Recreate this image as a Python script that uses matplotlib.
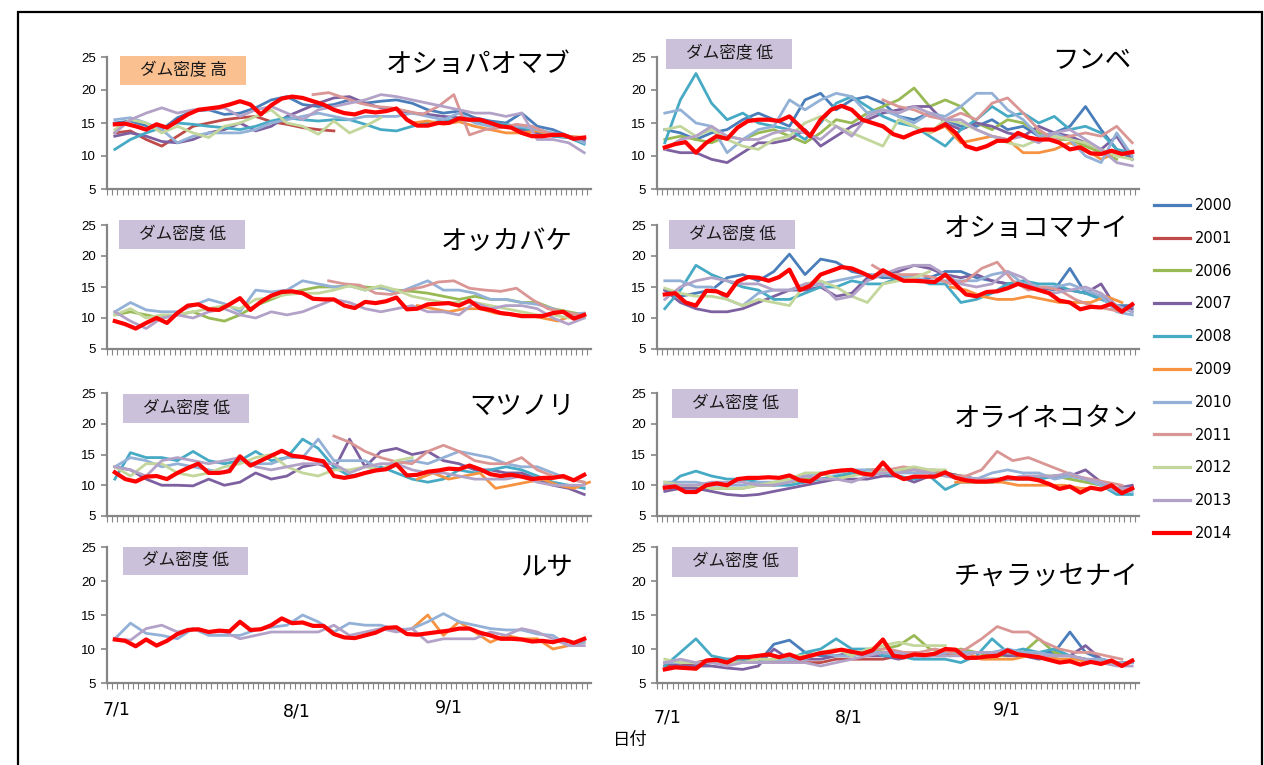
import numpy as np
import matplotlib.pyplot as plt
from matplotlib.patches import Rectangle
from matplotlib.lines import Line2D

plt.rcParams['font.family'] = ['Noto Sans CJK JP', 'DejaVu Sans']

W, H = 1264, 765

years = ['2000', '2001', '2006', '2007', '2008', '2009', '2010', '2011', '2012', '2013', '2014']
year_colors = ['#4A7EBB', '#BE4B48', '#98B954', '#7D60A0', '#46AAC5', '#F69240',
               '#93B1D6', '#D99694', '#C3D69B', '#B3A2C7', '#FF0000']
date_labels = ['7/1', '8/1', '9/1']

# water temperature, 7/1 = day 0. past years: (first day, values every 3 days)
# 2014: values every 2 days from 7/1
oshopaomabu = {
    '2000': (0, [15.0, 15.3, 14.6, 14.0, 15.8, 16.8, 17.0, 16.3, 16.5, 17.3, 18.5, 19.0, 17.8, 17.5, 17.8, 18.5,
                 18.0, 18.3, 18.5, 18.0, 17.0, 16.5, 16.8, 15.8, 15.3, 15.0, 16.5, 14.5, 14.0, 13.0, 12.5]),
    '2001': (0, [13.5, 13.8, 12.5, 11.5, 13.0, 14.5, 15.0, 15.5, 15.8, 16.0, 15.2, 14.8, 14.3, 14.0, 13.8]),
    '2007': (0, [13.0, 13.5, 13.0, 12.2, 12.0, 12.5, 13.5, 14.0, 15.0, 13.8, 14.5, 16.0, 17.0, 18.0, 18.8, 19.0,
                 18.0, 17.3, 17.0, 16.5, 16.3, 16.0, 15.8, 15.5, 15.0, 14.8, 14.0, 13.5, 13.0, 12.8, 12.3]),
    '2008': (0, [11.0, 12.5, 13.5, 14.3, 15.0, 14.8, 14.5, 14.3, 14.0, 14.5, 15.3, 15.8, 15.5, 15.3, 15.5, 15.5,
                 14.8, 14.0, 13.8, 14.5, 15.0, 15.3, 15.5, 15.3, 15.0, 14.8, 14.3, 13.8, 13.0, 12.8, 11.8]),
    '2009': (57, [15.0, 15.3, 14.8, 15.2, 14.5, 14.0, 13.5, 13.5, 13.8, 13.2, 13.0, 12.8]),
    '2010': (0, [15.5, 15.8, 15.0, 14.0, 12.0, 13.0, 13.5, 13.5, 13.5, 14.0, 15.0, 15.5, 16.0, 16.5, 16.0, 15.5,
                 16.0, 16.0, 16.0, 16.5, 16.0, 15.5, 16.5, 15.0, 14.5, 14.5, 14.5, 14.0, 13.5, 13.0, 12.0]),
    '2011': (38, [19.3, 19.6, 18.8, 18.0, 17.5, 17.3, 16.8, 16.3, 17.5, 19.3, 13.2, 14.0, 14.3, 14.8, 14.5, 13.5,
                  13.0, 12.8]),
    '2012': (0, [14.0, 15.5, 15.0, 13.5, 14.5, 13.5, 12.8, 14.5, 15.0, 16.0, 17.0, 15.0, 14.5, 13.3, 15.3, 13.5,
                 14.5, 15.8]),
    '2013': (0, [13.5, 15.5, 16.5, 17.3, 16.5, 17.0, 17.0, 17.3, 16.0, 17.0, 17.5, 16.5, 15.5, 17.0, 17.5, 18.0,
                 18.5, 19.3, 19.0, 18.5, 18.0, 17.5, 17.0, 16.5, 16.5, 16.0, 16.5, 12.5, 12.5, 12.0, 10.5]),
}
oshopaomabu_2014 = [14.8, 14.9, 14.5, 14.0, 14.8, 14.3, 15.3, 16.3, 17.0, 17.2, 17.4, 17.8, 18.3, 17.8, 16.3, 17.7,
                    18.7, 19.0, 18.8, 18.3, 17.8, 17.0, 16.5, 16.3, 16.8, 16.6, 16.8, 17.2, 15.5, 14.6, 14.6, 15.0,
                    15.0, 15.7, 15.5, 15.5, 15.0, 14.5, 14.3, 13.5, 13.0, 13.0, 13.2, 13.2, 12.6, 12.8]

funbe = {
    '2000': (0, [14.0, 13.5, 12.5, 13.5, 14.0, 15.5, 16.5, 15.5, 14.5, 18.5, 19.5, 17.0, 18.5, 19.0, 18.0, 16.0,
                 15.5, 16.5, 15.5, 14.5, 14.5, 15.5, 14.0, 14.5, 13.0, 13.5, 14.5, 17.5, 14.0, 11.0, 9.5]),
    '2006': (0, [12.5, 13.0, 12.5, 12.0, 13.0, 12.5, 13.5, 14.0, 13.0, 12.0, 13.5, 15.5, 15.0, 16.5, 17.5, 18.5,
                 20.3, 17.5, 18.5, 17.5, 15.0, 14.0, 15.5, 15.0, 13.5, 12.5, 12.5, 11.5, 10.5, 9.5]),
    '2007': (0, [11.0, 10.5, 10.5, 9.5, 9.0, 10.5, 12.0, 12.0, 12.5, 14.0, 11.5, 13.0, 14.5, 15.5, 16.5, 17.0,
                 17.5, 17.5, 15.0, 14.0, 15.0, 14.5, 13.5, 13.0, 14.5, 13.5, 13.0, 12.0, 11.0, 13.0, 9.5]),
    '2008': (0, [12.0, 18.5, 22.5, 18.0, 15.5, 16.5, 15.0, 14.5, 14.0, 12.5, 15.0, 18.0, 19.0, 17.5, 16.0, 15.0,
                 14.5, 13.0, 11.5, 14.0, 15.5, 17.5, 16.0, 16.5, 15.0, 16.0, 14.0, 14.5, 13.5, 11.0, 10.5]),
    '2009': (51, [13.5, 14.5, 12.0, 12.5, 13.0, 12.5, 10.5, 10.5, 11.0, 12.0, 11.0, 9.5, 10.5]),
    '2010': (0, [16.5, 17.0, 15.0, 14.5, 10.5, 12.5, 14.0, 14.5, 18.5, 17.0, 18.5, 19.5, 19.0, 16.5, 17.0, 16.0,
                 15.0, 16.5, 16.0, 17.5, 19.5, 19.5, 17.0, 15.5, 13.0, 13.5, 12.5, 10.0, 9.0, 13.5, 10.0]),
    '2011': (42, [18.5, 17.5, 17.0, 16.0, 15.5, 16.5, 15.5, 18.0, 18.8, 16.5, 14.0, 12.5, 13.0, 13.5, 13.0, 14.5,
                  12.0]),
    '2012': (0, [14.0, 14.5, 13.0, 14.0, 12.5, 11.5, 11.0, 12.5, 13.0, 15.0, 16.0, 14.5, 13.5, 12.5, 11.5, 15.5,
                 14.5, 13.5, 15.5, 15.0, 14.0, 13.0, 12.0, 11.5, 12.5, 13.0, 12.5, 12.0, 11.0, 10.0, 9.5]),
    '2013': (0, [11.0, 12.5, 13.0, 14.5, 13.0, 12.5, 12.5, 13.5, 14.0, 13.5, 12.5, 14.5, 13.0, 16.0, 17.0, 16.5,
                 17.5, 16.5, 15.5, 15.5, 14.0, 13.0, 12.5, 13.0, 12.0, 13.5, 14.0, 12.5, 11.0, 9.0, 8.5]),
}
funbe_2014 = [11.3, 11.8, 12.1, 10.5, 12.0, 13.0, 12.6, 14.3, 15.3, 15.5, 15.5, 15.3, 16.0, 14.5, 13.0, 15.5,
              17.0, 17.6, 17.0, 15.5, 15.0, 14.5, 13.3, 12.8, 13.5, 14.0, 14.0, 14.8, 13.5, 11.5, 11.0, 11.5,
              12.3, 12.3, 13.5, 12.8, 12.5, 12.5, 12.0, 11.0, 11.3, 10.4, 10.3, 10.8, 10.3, 10.6]

okkabake = {
    '2006': (0, [10.5, 11.0, 10.5, 10.0, 10.5, 11.0, 10.0, 9.5, 10.5, 12.0, 13.0, 14.0, 14.5, 15.0, 15.0, 15.2,
                 15.0, 14.8, 14.5, 14.3, 14.0, 13.5, 13.0, 13.5, 13.0, 13.0, 12.5, 12.5, 11.5, 11.0, 10.5]),
    '2009': (58, [12.0, 11.5, 11.0, 11.5, 11.5, 10.8, 10.5, 10.5, 10.0, 9.5, 10.5]),
    '2010': (0, [11.0, 12.5, 11.3, 11.0, 11.0, 12.0, 13.0, 12.3, 11.0, 14.5, 14.2, 14.5, 16.0, 15.5, 15.0, 15.2,
                 14.5, 15.0, 14.0, 15.0, 16.0, 14.5, 14.5, 14.0, 13.0, 13.0, 12.5, 12.2, 11.5, 10.5, 10.8]),
    '2011': (41, [16.0, 15.5, 15.3, 14.0, 13.8, 14.5, 15.0, 15.8, 16.0, 14.8, 14.5, 14.3, 14.8, 13.0, 11.5, 11.0,
                  10.5]),
    '2012': (0, [10.5, 11.5, 10.0, 10.5, 10.5, 11.0, 11.5, 12.0, 11.5, 13.0, 13.3, 13.8, 14.0, 14.0, 14.5, 15.2,
                 14.5, 15.2, 14.5, 13.5, 13.0, 12.5, 12.5, 12.5, 12.0, 11.5, 11.0, 10.5, 10.5, 10.0, 10.0]),
    '2013': (0, [11.0, 9.5, 8.3, 10.0, 10.5, 10.0, 11.0, 11.5, 10.5, 10.0, 11.0, 10.5, 11.0, 12.0, 13.0, 12.5,
                 11.5, 11.0, 11.5, 12.0, 11.0, 11.0, 10.5, 12.5, 11.5, 12.0, 12.0, 11.5, 10.0, 9.0, 10.0]),
}
okkabake_2014 = [9.5, 9.0, 8.3, 9.2, 10.0, 9.2, 10.8, 12.0, 12.2, 11.4, 11.3, 12.2, 13.2, 11.3, 12.6, 13.6,
                 14.2, 14.3, 14.0, 13.1, 13.0, 13.0, 12.0, 11.6, 12.6, 12.4, 12.7, 13.3, 11.4, 11.5, 12.2, 12.3,
                 12.4, 12.0, 12.8, 11.6, 11.3, 10.8, 10.6, 10.3, 10.3, 10.3, 10.8, 11.0, 9.9, 10.5]

oshokomanai = {
    '2000': (0, [14.5, 13.5, 14.0, 14.5, 16.5, 17.0, 16.0, 17.5, 20.3, 17.0, 19.5, 19.0, 17.5, 17.0, 16.5, 16.5,
                 16.0, 16.5, 17.5, 17.5, 16.5, 16.0, 15.5, 15.5, 15.0, 14.5, 18.0, 14.0, 13.5, 12.0, 12.0]),
    '2007': (0, [14.5, 12.5, 11.5, 11.0, 11.0, 11.5, 12.5, 13.5, 14.5, 14.5, 15.0, 13.5, 14.0, 16.5, 17.0, 17.5,
                 18.5, 18.0, 17.0, 16.5, 17.0, 16.0, 15.5, 15.5, 14.5, 15.0, 14.5, 14.0, 15.5, 11.5, 11.5]),
    '2008': (0, [11.5, 14.5, 18.5, 17.0, 16.0, 15.0, 14.5, 13.0, 13.0, 14.0, 15.0, 15.0, 16.0, 15.5, 15.5, 16.5,
                 16.5, 15.5, 15.5, 12.5, 13.0, 14.0, 15.5, 16.0, 15.5, 15.5, 14.5, 14.0, 13.0, 12.0, 11.0]),
    '2009': (55, [15.0, 14.5, 13.5, 13.0, 13.0, 13.5, 13.0, 12.5, 12.5, 12.5, 13.5, 12.5]),
    '2010': (0, [16.0, 16.0, 15.0, 15.0, 13.0, 12.0, 14.0, 14.5, 14.5, 15.0, 15.5, 16.0, 16.5, 17.0, 17.0, 16.5,
                 16.5, 16.0, 16.0, 16.0, 16.0, 17.0, 17.5, 15.5, 15.0, 15.0, 15.5, 14.5, 13.5, 11.0, 10.5]),
    '2011': (40, [18.5, 17.0, 17.0, 17.0, 16.5, 15.5, 16.0, 18.0, 19.0, 16.0, 14.5, 15.0, 14.5, 13.0, 12.0, 11.5,
                  11.0]),
    '2012': (0, [14.8, 14.0, 13.5, 13.5, 13.0, 12.0, 13.0, 12.5, 12.0, 15.5, 16.0, 15.0, 13.5, 12.5, 15.5, 16.0,
                 16.5, 17.5]),
    '2013': (0, [13.0, 15.0, 16.0, 16.5, 16.0, 15.5, 15.5, 14.5, 14.5, 15.5, 15.5, 13.0, 13.5, 16.0, 17.0, 18.0,
                 18.5, 18.5, 17.0, 15.5, 15.0, 15.5, 17.5, 16.5, 14.5, 14.0, 14.5, 15.0, 14.0, 12.0, 11.0]),
}
oshokomanai_2014 = [13.8, 14.0, 12.5, 12.0, 14.4, 14.3, 13.6, 15.9, 16.6, 16.5, 16.0, 16.6, 17.8, 14.5, 15.2, 17.0,
                    17.6, 18.2, 18.0, 17.3, 16.5, 17.7, 16.8, 16.0, 16.0, 15.9, 15.8, 17.0, 15.4, 13.8, 13.5, 14.2,
                    14.3, 14.8, 15.5, 15.0, 14.5, 14.0, 12.8, 12.5, 11.4, 11.8, 11.7, 12.3, 11.0, 12.2]

matsunori = {
    '2007': (0, [13.0, 12.5, 11.0, 10.0, 10.0, 9.9, 11.0, 10.0, 10.5, 12.0, 11.0, 11.5, 13.0, 13.5, 12.5, 17.5,
                 13.0, 15.5, 16.0, 15.0, 15.5, 14.0, 13.5, 12.5, 12.5, 12.0, 12.0, 11.0, 10.0, 9.5, 8.5]),
    '2008': (0, [11.0, 15.3, 14.5, 14.5, 14.0, 15.5, 14.0, 13.5, 14.0, 15.5, 14.0, 14.5, 17.5, 16.0, 13.0, 11.5,
                 12.0, 13.0, 12.0, 11.0, 10.5, 11.0, 12.5, 12.0, 12.5, 13.0, 12.5, 11.5, 10.5, 10.0, 9.5]),
    '2009': (58, [11.0, 12.0, 11.0, 11.5, 12.0, 9.5, 10.0, 10.5, 11.0, 10.0, 9.5, 10.5]),
    '2010': (0, [13.0, 14.5, 14.0, 13.0, 13.5, 13.0, 12.5, 12.0, 14.0, 13.5, 13.5, 14.5, 14.5, 17.5, 14.0, 14.0,
                 14.0, 12.5, 13.5, 14.0, 13.5, 14.5, 15.5, 15.0, 14.5, 13.5, 13.0, 13.0, 12.0, 11.0, 10.5]),
    '2011': (42, [18.0, 17.0, 15.5, 14.5, 13.8, 13.5, 15.5, 16.5, 15.5, 14.0, 13.5, 13.5, 14.5, 12.5, 11.5, 11.0,
                  10.5]),
    '2012': (0, [13.0, 11.5, 13.5, 13.5, 12.0, 11.5, 12.0, 13.0, 13.5, 14.5, 15.0, 13.0, 12.0, 11.5, 12.5, 12.5,
                 13.0, 12.5, 14.0, 14.5]),
    '2013': (0, [13.0, 12.5, 11.5, 14.0, 14.5, 14.0, 13.5, 14.0, 14.5, 13.0, 12.5, 13.0, 13.5, 13.5, 13.5, 12.0,
                 13.0, 13.5, 13.5, 12.5, 12.0, 12.0, 11.5, 11.0, 11.0, 11.0, 11.5, 10.5, 10.0, 10.0, 10.0]),
}
matsunori_2014 = [12.1, 11.0, 10.6, 11.4, 11.5, 11.0, 12.0, 12.8, 13.5, 12.0, 12.0, 12.3, 14.7, 13.2, 14.0, 14.8,
                  15.6, 14.8, 14.6, 14.2, 13.9, 11.5, 11.2, 11.5, 12.0, 12.4, 12.6, 13.4, 11.6, 11.7, 12.2, 12.4,
                  12.7, 12.6, 13.2, 12.6, 11.8, 11.5, 11.7, 11.4, 11.0, 11.2, 11.2, 11.5, 10.8, 11.7]

orainekotan = {
    '2006': (0, [10.0, 10.0, 9.5, 9.5, 9.5, 9.5, 10.0, 10.0, 10.5, 11.0, 11.0, 11.0, 12.0, 12.5, 12.5, 12.5,
                 12.5, 12.0, 12.0, 11.5, 11.0, 11.0, 11.0, 11.0, 11.5, 11.5, 11.0, 10.5, 10.0, 9.5, 9.5]),
    '2007': (0, [9.0, 9.5, 9.5, 9.0, 8.5, 8.3, 8.5, 9.0, 9.5, 10.0, 10.5, 11.0, 11.0, 11.0, 11.5, 11.5,
                 10.5, 11.5, 12.0, 11.5, 11.0, 10.5, 11.0, 11.0, 11.0, 11.5, 11.5, 12.5, 10.5, 9.5, 10.0]),
    '2008': (0, [9.5, 11.5, 12.3, 11.5, 11.0, 11.0, 10.5, 10.0, 10.0, 10.5, 11.0, 11.5, 12.0, 12.0, 12.0, 11.5,
                 11.0, 11.5, 9.3, 10.5, 10.5, 10.5, 11.0, 11.5, 11.0, 11.5, 11.5, 11.0, 10.0, 8.5, 8.5]),
    '2009': (56, [10.5, 10.5, 10.5, 10.5, 10.0, 10.0, 10.0, 10.0, 9.5, 9.5, 9.5, 9.5]),
    '2010': (0, [10.5, 10.5, 10.5, 10.0, 10.0, 10.0, 10.5, 10.5, 11.0, 11.5, 12.0, 12.0, 12.5, 12.5, 12.5, 12.0,
                 12.0, 12.0, 11.5, 11.5, 11.0, 12.0, 12.5, 12.0, 12.0, 11.0, 11.5, 11.0, 10.0, 9.0, 9.0]),
    '2011': (40, [12.5, 12.5, 13.0, 12.5, 12.5, 11.5, 11.5, 12.5, 15.5, 14.0, 14.5, 13.5, 12.5, 11.5, 11.0, 10.5,
                  10.0]),
    '2012': (0, [10.5, 10.0, 10.0, 9.5, 9.5, 9.5, 10.0, 10.5, 11.0, 12.0, 12.0, 11.0, 11.5, 12.0, 12.0, 12.5,
                 13.0, 12.5, 12.5]),
    '2013': (0, [10.0, 10.0, 10.0, 10.5, 10.5, 10.5, 10.0, 10.0, 10.5, 11.5, 11.0, 11.0, 10.5, 11.5, 12.0, 12.0,
                 12.5, 12.0, 11.5, 11.0, 11.0, 11.0, 11.0, 11.5, 11.5, 11.5, 12.0, 11.0, 10.5, 9.5, 9.5]),
}
orainekotan_2014 = [9.6, 9.8, 8.9, 8.9, 10.0, 10.3, 10.0, 11.0, 11.2, 11.2, 11.3, 11.2, 11.6, 10.8, 10.6, 11.8,
                    12.2, 12.4, 12.5, 11.9, 11.7, 13.7, 11.8, 11.0, 11.4, 11.4, 11.4, 12.1, 11.2, 10.8, 10.6, 10.6,
                    10.8, 11.3, 11.1, 11.1, 10.8, 10.2, 9.4, 9.8, 8.8, 9.6, 9.3, 10.0, 8.7, 9.5]

rusa = {
    '2009': (57, [13.0, 15.0, 12.0, 14.0, 12.5, 11.0, 12.0, 11.5, 11.5, 10.0, 10.5, 11.0]),
    '2010': (0, [11.5, 13.8, 12.3, 12.0, 11.5, 13.0, 12.0, 12.0, 12.0, 12.8, 13.2, 13.5, 15.0, 14.0, 12.5, 13.8,
                 13.5, 13.5, 12.8, 13.0, 14.0, 15.2, 14.0, 13.5, 13.0, 12.8, 12.8, 12.2, 12.0, 10.5, 11.0]),
    '2013': (0, [11.5, 11.3, 13.0, 13.5, 12.5, 13.0, 12.5, 12.5, 11.5, 12.0, 12.5, 12.5, 12.5, 12.5, 13.5, 12.0,
                 12.5, 13.0, 12.5, 13.0, 11.0, 11.5, 11.5, 11.5, 12.5, 12.0, 13.0, 12.5, 11.5, 10.5, 10.5]),
}
rusa_2014 = [11.4, 11.2, 10.4, 11.4, 10.5, 11.2, 12.2, 12.8, 12.9, 12.5, 12.7, 12.6, 14.0, 12.8, 12.9, 13.5,
             14.5, 13.8, 13.9, 13.4, 13.4, 12.2, 11.7, 11.6, 12.0, 12.4, 13.1, 13.2, 12.2, 12.1, 12.3, 12.5,
             12.7, 13.0, 13.0, 12.4, 12.0, 11.5, 11.5, 11.4, 11.1, 11.2, 11.0, 11.4, 10.9, 11.5]

charassenai = {
    '2000': (0, [7.5, 7.5, 7.5, 8.0, 8.0, 8.0, 8.0, 10.7, 11.3, 9.5, 9.0, 9.0, 9.0, 9.5, 9.5, 9.0,
                 9.0, 9.0, 9.5, 9.5, 9.5, 9.5, 9.5, 9.5, 9.5, 9.5, 12.5, 9.5, 8.5, 8.0, 8.0]),
    '2001': (0, [7.5, 7.5, 8.0, 8.5, 8.5, 8.5, 8.0, 8.0, 8.0, 8.0, 8.0, 8.5, 8.5, 8.5, 8.5, 9.0,
                 9.0, 9.0, 9.0, 9.5]),
    '2006': (39, [9.5, 10.0, 10.5, 12.0, 10.0, 9.5, 10.0, 9.5, 9.0, 9.0, 9.5, 11.5, 9.5, 9.0, 8.5, 8.0, 8.0]),
    '2007': (0, [8.0, 7.5, 7.5, 7.5, 7.2, 7.0, 7.5, 10.0, 8.5, 8.5, 8.5, 9.0, 9.5, 9.0, 9.0, 8.5,
                 9.0, 9.0, 9.5, 9.5, 9.5, 9.5, 9.0, 9.0, 8.5, 9.0, 9.0, 10.5, 8.5, 8.0, 8.0]),
    '2008': (0, [7.5, 9.5, 11.5, 9.0, 8.5, 8.5, 8.0, 8.5, 8.5, 9.5, 10.0, 11.5, 10.0, 10.0, 9.0, 9.0,
                 8.5, 8.5, 8.5, 8.0, 9.0, 11.5, 9.5, 10.0, 9.5, 10.0, 9.0, 8.5, 8.0, 8.0, 8.0]),
    '2009': (55, [9.0, 9.5, 8.5, 8.5, 8.5, 9.0, 9.0, 8.5, 8.5, 8.0, 8.0, 8.0]),
    '2010': (0, [8.0, 8.0, 8.0, 8.0, 8.0, 8.0, 8.0, 8.5, 8.5, 8.5, 9.5, 9.0, 9.0, 9.5, 9.5, 9.0,
                 9.0, 9.0, 9.5, 9.5, 9.5, 9.5, 10.0, 9.5, 9.5, 9.0, 9.0, 8.5, 8.5, 8.0, 8.0]),
    '2011': (40, [10.0, 10.0, 9.5, 9.5, 10.0, 9.5, 10.0, 11.5, 13.3, 12.5, 12.5, 11.0, 10.0, 9.5, 9.5, 9.0, 8.5]),
    '2012': (0, [8.5, 8.0, 8.0, 8.0, 8.0, 8.0, 8.5, 8.5, 9.0, 9.0, 9.5, 10.0, 9.0, 10.0, 10.5, 11.0,
                 10.5, 10.5, 10.5]),
    '2013': (0, [8.0, 8.5, 8.0, 8.0, 7.5, 8.0, 8.0, 8.0, 8.0, 8.0, 7.5, 8.0, 8.5, 9.0, 9.5, 9.5,
                 9.0, 9.0, 9.0, 9.0, 9.5, 9.5, 9.5, 9.0, 9.0, 9.0, 9.0, 8.5, 8.0, 7.5, 7.5]),
}
charassenai_2014 = [7.0, 7.3, 7.2, 7.1, 8.3, 8.4, 8.0, 8.8, 8.8, 9.0, 9.2, 8.8, 9.2, 8.6, 9.0, 9.4,
                    9.6, 9.9, 9.6, 9.3, 9.8, 11.4, 9.0, 8.8, 9.2, 9.1, 9.3, 10.0, 9.9, 8.7, 8.7, 8.9,
                    9.0, 9.8, 9.2, 9.0, 8.8, 8.4, 8.0, 8.2, 7.7, 8.1, 7.8, 8.3, 7.5, 8.3]

panels = [
    ('オショパオマブ', oshopaomabu, oshopaomabu_2014, '高'),
    ('フンベ', funbe, funbe_2014, '低'),
    ('オッカバケ', okkabake, okkabake_2014, '低'),
    ('オショコマナイ', oshokomanai, oshokomanai_2014, '低'),
    ('マツノリ', matsunori, matsunori_2014, '低'),
    ('オライネコタン', orainekotan, orainekotan_2014, '低'),
    ('ルサ', rusa, rusa_2014, '低'),
    ('チャラッセナイ', charassenai, charassenai_2014, '低'),
]

# layout in pixels of the 1264x765 picture
col_x = [(107, 591), (657, 1139)]
row_y = [(57, 189), (225, 349), (393, 516), (547, 683)]
boxes = [(120, 56, 246, 85), (666, 39, 792, 69), (119, 220, 245, 249), (669, 220, 795, 249),
         (123, 394, 249, 423), (672, 389, 798, 418), (123, 547, 248, 575), (672, 547, 798, 577)]
titles = [(570, 64), (1131, 61), (573, 242), (1128, 229), (575, 406), (1138, 419), (573, 567), (1138, 577)]
gray = '#868686'


def fx(x):
    return x / W


def fy(y):
    return 1 - y / H


fig = plt.figure(figsize=(W / 100, H / 100), dpi=100)

for i, (name, series, red, density) in enumerate(panels):
    x0, x1 = col_x[i % 2]
    y0, y1 = row_y[i // 2]
    ax = fig.add_axes([fx(x0), fy(y1), (x1 - x0) / W, (y1 - y0) / H])
    for year, color in zip(years[:-1], year_colors[:-1]):
        if year not in series:
            continue
        start, vals = series[year]
        ax.plot(start + 3 * np.arange(len(vals)), vals, color=color, lw=2.0, solid_joinstyle='round')
    ax.plot(2 * np.arange(len(red)), red, color=year_colors[-1], lw=3.0, solid_joinstyle='round')
    ax.set_xlim(-1.5, 91.3)
    ax.set_ylim(5, 25)
    ax.set_yticks([5, 10, 15, 20, 25])
    ax.set_xticks(np.arange(-1.5, 91.3, 1.0))
    ax.set_xticklabels([])
    ax.tick_params(axis='x', length=4, width=0.8, color=gray, direction='out')
    ax.tick_params(axis='y', length=4, width=1.2, color=gray, labelsize=9.5, pad=4)
    for lab in ax.get_yticklabels():
        lab.set_family('Liberation Sans')
    for side in ['top', 'right']:
        ax.spines[side].set_visible(False)
    for side in ['left', 'bottom']:
        ax.spines[side].set_color(gray)
        ax.spines[side].set_linewidth(1.6)
    ax.patch.set_alpha(0)

    bx0, by0, bx1, by1 = boxes[i]
    fc = '#FAC090' if density == '高' else '#CCC1DA'
    fig.add_artist(Rectangle((fx(bx0), fy(by1)), (bx1 - bx0) / W, (by1 - by0) / H,
                             transform=fig.transFigure, fc=fc, ec='none'))
    fig.text(fx((bx0 + bx1) / 2), fy((by0 + by1) / 2), 'ダム密度 ' + density,
             ha='center', va='center', fontsize=12, color='#1a1a1a')
    tx, ty = titles[i]
    fig.text(fx(tx), fy(ty), name, ha='right', va='center', fontsize=19, color='black')

# date labels under each column
left_dates = [(117, 710), (297, 712), (449, 708)]
right_dates = [(668, 718), (849, 718), (1007, 710)]
for (x, y), lab in zip(left_dates, date_labels):
    fig.text(fx(x), fy(y), lab, ha='center', va='center', fontsize=12.5, family='DejaVu Sans')
for (x, y), lab in zip(right_dates, date_labels):
    fig.text(fx(x), fy(y), lab, ha='center', va='center', fontsize=12.5, family='DejaVu Sans')
fig.text(fx(630), fy(740), '日付', ha='center', va='center', fontsize=12.5)

handles = [Line2D([], [], color=c, lw=3.0 if y == '2014' else 2.3) for y, c in zip(years, year_colors)]
fig.legend(handles, years, loc='upper left', bbox_to_anchor=(fx(1154), fy(198)), frameon=False,
           handlelength=2.5, handletextpad=0.3, labelspacing=1.22,
           borderaxespad=0, borderpad=0, prop={'family': 'DejaVu Sans', 'size': 10.5})

fig.add_artist(Rectangle((fx(18), fy(780)), (1262 - 18) / W, (780 - 12) / H,
                         transform=fig.transFigure, fill=False, ec='black', lw=1.6))

fig.savefig('out.png', dpi=100)
